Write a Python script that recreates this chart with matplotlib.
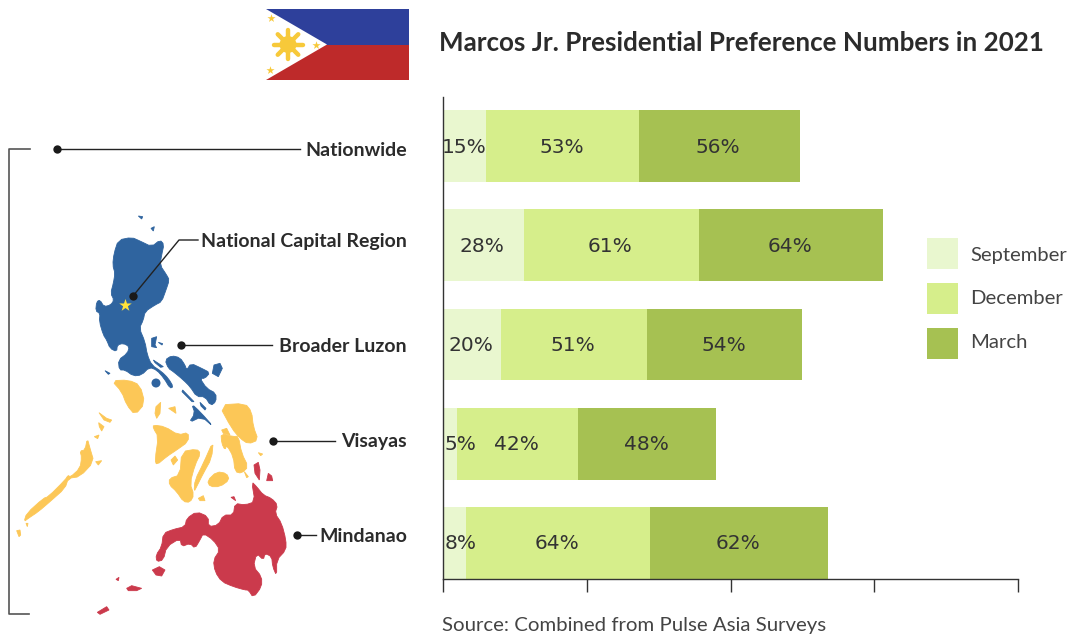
import numpy as np
import matplotlib
matplotlib.use("Agg")
import matplotlib.pyplot as plt
from matplotlib.patches import Polygon, Circle, Rectangle

## data
regions = ["Nationwide", "National Capital Region", "Broader Luzon", "Visayas", "Mindanao"]
months = ["September", "December", "March"]
september = [15, 28, 20, 5, 8]
december = [53, 61, 51, 42, 64]
march = [56, 64, 54, 48, 62]
bar_colors = ["#E9F7CF", "#D6EE8B", "#A6C152"]

title = "Marcos Jr. Presidential Preference Numbers in 2021"
source = "Source: Combined from Pulse Asia Surveys"

plt.rcParams["font.family"] = ["Lato", "DejaVu Sans"]
W, H = 1071, 637
fig = plt.figure(figsize=(W/100, H/100), dpi=100)

## overlay in pixel coordinates for map, flag, legend and callouts
bg = fig.add_axes([0, 0, 1, 1])
bg.set_xlim(0, W)
bg.set_ylim(H, 0)
bg.axis("off")

## BARS
ax = fig.add_axes([443/W, 1-579/H, 575/W, 482/H])
y = np.arange(len(regions))
left = np.zeros(len(regions))
for name, vals, c in zip(months, [september, december, march], bar_colors):
    vals = np.array(vals)
    ax.barh(y, vals, left=left, height=0.725, color=c, label=name)
    for i, v in enumerate(vals):
        if v < 10:
            ax.text(left[i]+0.4, i+0.01, "%d%%" % v, ha="left", va="center", fontsize=14.5,
                    family="DejaVu Sans", color="#333333")
        else:
            ax.text(left[i]+v/2-0.3, i+0.01, "%d%%" % v, ha="center", va="center", fontsize=14.5,
                    family="DejaVu Sans", color="#333333")
    left = left + vals
ax.set_xlim(0, 200)
ax.set_ylim(4.363, -0.494)
ax.patch.set_alpha(0)
ax.set_xticks([0, 50, 100, 150, 200])
ax.set_xticklabels([])
ax.set_yticks([])
ax.tick_params(axis="x", length=9.5, width=1, color="#333333")
for s in ["top", "right"]:
    ax.spines[s].set_visible(False)
for s in ["left", "bottom"]:
    ax.spines[s].set_color("#333333")
    ax.spines[s].set_linewidth(1)

## TITLE
bg.text(439, 43, title, fontsize=18.75, weight="bold", color="#2b2b2b", va="center", ha="left")
bg.text(442, 626, source, fontsize=14.7, color="#444444", va="center", ha="left")

## LEGEND
for name, c, ty, ly in zip(months, bar_colors, [238, 283, 328], [256, 299, 343]):
    bg.add_patch(Rectangle((927, ty), 31, 31, color=c, lw=0))
    bg.text(970, ly, name, fontsize=14.6, color="#444444", va="center", ha="left")

## FLAG
bg.add_patch(Rectangle((266, 9), 143, 35.5, color="#2E409B", lw=0))
bg.add_patch(Rectangle((266, 44.5), 143, 35.5, color="#BE2A2A", lw=0))
bg.add_patch(Polygon([(266, 9), (327, 44.5), (266, 80)], color="white", lw=0))
for a in np.arange(0, 360, 45):
    r = np.radians(a)
    bg.plot([288, 288+14.5*np.cos(r)], [44.5, 44.5+14.5*np.sin(r)], color="#F7C93A", lw=3.2,
            solid_capstyle="round")
bg.add_patch(Circle((288, 44.5), 8.5, color="#F7C93A", lw=0))
bg.scatter([271, 270, 316], [18, 70, 44.5], marker="*", s=38, color="#F7C93A", lw=0)

def poly(pts, x0, y0, color):
    pts = np.array(pts, dtype=float)
    # corner cutting so the traced coast is not so angular
    if len(pts) >= 6:
        nxt = np.roll(pts, -1, axis=0)
        pts = np.column_stack([0.75*pts+0.25*nxt, 0.25*pts+0.75*nxt]).reshape(-1, 2)
    bg.add_patch(Polygon(pts/3+[x0, y0], closed=True, color=color, lw=0.6))

blue, yellow, red = "#2F649F", "#FCC757", "#CB3A4C"
luzon = [
    [(85,105),(125,97),(150,108),(185,125),(210,105),(222,118),(215,150),(210,180),(230,210),(238,225),(228,255),(215,290),(195,300),(165,320),(160,345),(148,370),(165,410),(172,450),(185,480),(215,500),(235,520),(250,545),(240,550),(222,520),(200,495),(178,487),(155,510),(130,513),(105,495),(88,495),(85,465),(112,445),(118,425),(100,415),(82,420),(80,440),(60,430),(50,405),(40,390),(28,350),(30,325),(17,318),(20,290),(30,285),(42,305),(62,300),(72,285),(62,265),(70,235),(75,205),(68,180),(72,145)],
    [(225,465),(245,452),(270,458),(285,480),(290,495),(303,475),(335,490),(360,503),(345,520),(330,520),(350,550),(378,565),(378,590),(362,602),(345,575),(320,575),(300,545),(280,525),(250,500),(235,490)],
    [(372,480),(390,475),(397,490),(385,515),(367,505)],
    [(185,400),(200,395),(195,420),(200,428),(185,425)],
    [(205,412),(218,416),(216,420)],
    [(145,33),(158,35),(155,42)],
    [(183,70),(193,65),(190,78)],
    [(45,497),(60,505),(55,508)],
    [(190,465),(220,485),(212,487),(195,473)],
    [(278,555),(312,590),(306,590),(276,560)],
]
for p in luzon:
    poly(p, 90, 205, blue)
for p in [[(575,102),(600,125),(642,172),(605,140),(567,158),(585,130)],
          [(600,97),(618,115),(615,120),(603,108)]]:
    poly(p, 0, 370, blue)
bg.add_patch(Circle((156, 383), 4.5, color=blue, lw=0))

visayas = [
    [(335,32),(385,30),(420,45),(435,100),(405,135),(380,105),(365,65)],
    [(72,455),(80,430),(130,385),(145,380),(195,330),(205,315),(210,322),(240,295),(245,262),(240,243),(255,240),(262,205),(270,235),(282,275),(240,320),(205,325),(195,355),(150,395),(115,425),(85,445)],
    [(50,482),(60,480),(62,495),(57,500)],
    [(78,460),(84,460),(82,470)],
    [(287,275),(305,272),(295,285)],
    [(283,200),(297,195),(293,206)],
    [(296,158),(312,170),(305,183),(298,170)],
    [(297,128),(320,145),(335,150),(330,157),(312,150)],
    [(460,165),(495,170),(535,195),(565,187),(565,215),(530,240),(500,260),(470,285),(465,270),(475,200),(460,175)],
    [(513,270),(525,258),(533,270),(520,285)],
    [(545,245),(590,237),(602,250),(585,285),(570,340),(582,375),(570,397),(550,395),(530,365),(508,345),(508,325),(540,315)],
    [(640,212),(635,265),(610,310),(590,350),(582,365),(585,330),(610,280)],
    [(622,332),(650,305),(680,310),(688,330),(660,350),(630,350)],
    [(595,385),(610,377),(615,392),(600,392)],
    [(468,110),(482,97),(480,130),(470,145),(465,130)],
    [(506,115),(525,110),(528,130)],
    [(657,105),(735,100),(755,125),(760,170),(775,210),(745,222),(720,205),(695,175)],
    [(663,190),(700,200),(715,198),(725,250),(745,290),(725,310),(705,305),(700,260),(680,225),(675,240),(665,220)],
    [(665,180),(680,175),(690,195),(670,190)],
    [(733,305),(745,320),(740,323)],
    [(775,248),(788,252),(782,257)],
]
for p in visayas:
    poly(p, 0, 370, yellow)

mindanao = [
    [(755,335),(770,350),(790,375),(815,385),(833,405),(825,430),(845,460),(858,510),(858,540),(830,570),(830,618),(818,590),(815,560),(795,550),(790,570),(770,550),(760,590),(785,620),(785,650),(760,683),(745,660),(735,660),(700,650),(665,635),(645,605),(640,570),(660,540),(640,510),(610,490),(600,510),(585,535),(570,520),(545,530),(540,505),(500,530),(490,570),(470,575),(468,555),(485,530),(490,490),(520,478),(555,470),(560,445),(590,425),(625,440),(625,470),(655,465),(670,435),(700,435),(705,400),(735,405),(765,395)],
    [(762,285),(775,277),(780,300),(778,330),(765,310)],
    [(805,310),(815,318),(818,332),(800,332)],
    [(693,382),(702,380),(707,392)],
    [(457,600),(478,590),(495,600),(485,618),(468,615)],
    [(380,655),(395,647),(425,655),(410,662),(385,662)],
    [(348,628),(357,622),(355,632)],
    [(292,727),(320,710),(327,720),(300,733)],
]
for p in mindanao:
    poly(p, 0, 370, red)

bg.scatter([125], [305], marker="*", s=90, color="#FFE23A", lw=0, zorder=4)

## BRACKET
bg.plot([30, 9, 9, 29], [149, 149, 614, 614], color="#555555", lw=1.2)

## CALLOUTS
callouts = [
    ([(57, 149), (300, 149)], 150),
    ([(133, 296), (179, 240), (198, 240)], 241),
    ([(181, 345), (272, 345)], 347),
    ([(273, 441), (335, 441)], 442),
    ([(297, 535), (316, 535)], 536),
]
for (pts, ty), name in zip(callouts, regions):
    xs, ys = zip(*pts)
    bg.plot(xs, ys, color="#222222", lw=1, zorder=5)
    bg.scatter(xs[0], ys[0], s=36, color="#1a1a1a", lw=0, zorder=6)
    bg.text(407, ty, name, fontsize=14, weight="bold", color="#2b2b2b", ha="right", va="center")

fig.savefig("out.png", dpi=100)
